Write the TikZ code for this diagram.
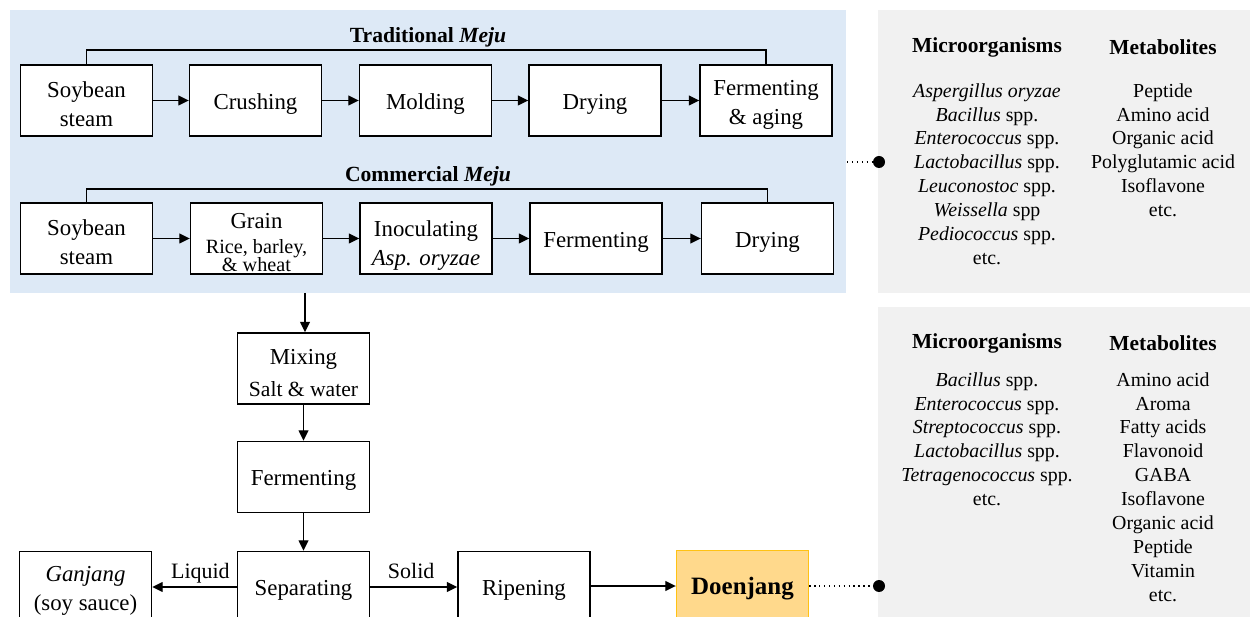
\documentclass[tikz,border=0pt]{standalone}
\usepackage{fontspec}
\setmainfont{Liberation Serif}
\usetikzlibrary{arrows.meta,positioning}

\definecolor{mejublue}{RGB}{221,233,246}
\definecolor{panelgray}{RGB}{241,241,241}
\definecolor{doenfill}{RGB}{255,217,140}
\definecolor{doenline}{RGB}{255,194,20}

\tikzset{
  stepbox/.style={ draw, line width=0.8pt, fill=white, minimum width=2.64cm, minimum height=1.42cm,
    align=center, inner sep=1pt, font=\fontsize{13}{16.5}\selectfont,
    execute at begin node={\rule{0pt}{12.5pt}} }
}
\tikzset{
  doenbox/.style={ stepbox, draw=doenline, fill=doenfill, font=\fontsize{14.2}{16}\selectfont\bfseries }
}
\tikzset{
  rowtitle/.style={ font=\fontsize{12.3}{14}\selectfont\bfseries }
}
\tikzset{
  listhead/.style={ font=\fontsize{12.2}{14}\selectfont\bfseries },
  listbody/.style={ align=center, inner sep=0pt, font=\fontsize{11.3}{13.6}\selectfont }
}
\tikzset{
  flowlabel/.style={ font=\fontsize{12.5}{14}\selectfont, text depth=0pt },
  enddot/.style={ circle, fill=black, inner sep=0pt, minimum size=0.24cm }
}
\newcommand{\smalltext}{\fontsize{11.5}{10.4}\selectfont}
\newcommand{\topstrut}[1]{\rule{0pt}{#1}}

\begin{document}
\begin{tikzpicture}[x=0.02cm, y=-0.02cm, >={Triangle[length=6pt,width=5.6pt]}]
      \clip (0,0) rectangle (1250,617);
      \fill[white] (0,0) rectangle (1250,617);

      % backgrounds
      \fill[mejublue] (10,10) rectangle (846,293);
      \fill[panelgray] (878,10) rectangle (1250,293);
      \fill[panelgray] (878,307) rectangle (1250,630);

      % traditional meju
      \node[rowtitle] (tradtitle) at (428,37) {Traditional \textit{Meju}};
      \node[stepbox] (t1) at (86.5,100.5) {\topstrut{13.5pt}Soybean\\steam};
      \node[stepbox] (t2) at (255.5,100.5) {Crushing};
      \node[stepbox] (t3) at (425.5,100.5) {Molding};
      \node[stepbox] (t4) at (595,100.5) {Drying};
      \node[stepbox] (t5) at (766,100.5) {\topstrut{13.5pt}Fermenting\\\& aging};

      % commercial meju
      \node[rowtitle] (comtitle) at (428,176) {Commercial \textit{Meju}};
      \node[stepbox] (c1) at (86.5,238.5) {\topstrut{13.5pt}Soybean\\steam};
      \node[stepbox] (c2) at (256.5,238.5) {\topstrut{13pt}Grain\\[-2.5pt]{\smalltext Rice, barley,}\\[-6.3pt]{\smalltext \& wheat}};
      \node[stepbox] (c3) at (426,238.5) {\topstrut{17pt}Inoculating\\\textit{Asp. oryzae}};
      \node[stepbox] (c4) at (596,238.5) {Fermenting};
      \node[stepbox] (c5) at (767.5,238.5) {Drying};

      % doenjang making
      \node[stepbox] (mix) at (303.5,368.5) {\topstrut{13.5pt}Mixing\\[1.5pt]{\fontsize{12.3}{13}\selectfont Salt \& water}};
      \node[stepbox] (ferm) at (303.5,477) {Fermenting};
      \node[stepbox] (sep) at (303.5,587) {Separating};
      \node[stepbox] (ganj) at (85.5,587) {\topstrut{13.5pt}\textit{Ganjang}\\(soy sauce)};
      \node[stepbox] (ripe) at (524,587) {Ripening};
      \node[doenbox] (doen) at (742.5,586) {Doenjang};

      \coordinate (mejuend) at (305,293);
      \coordinate (mejuside) at (847,162);
      \node[enddot] (dot1) at (879,162) {};
      \node[enddot] (dot2) at (879,586) {};

      % brackets
      \draw[line width=0.8pt] (t1.north) -- (t1.north |- 0,50) -| (t5.north);
      \draw[line width=0.8pt] (c1.north) -- (c1.north |- 0,189) -| (c5.north);

      \begin{scope}[->, line width=0.8pt]
        \draw (t1) -- (t2);
        \draw (t2) -- (t3);
        \draw (t3) -- (t4);
        \draw (t4) -- (t5);

        \draw (c1) -- (c2);
        \draw (c2) -- (c3);
        \draw (c3) -- (c4);
        \draw (c4) -- (c5);

        \draw (mejuend) -- (mejuend |- mix.north);
        \draw (mix) -- (ferm);
        \draw (ferm) -- (sep);
        \draw (sep.west |- ganj) -- node[flowlabel, pos=0.43, above=1pt] {Liquid} (ganj);
        \draw (sep.east |- ripe) -- node[flowlabel, pos=0.47, above=1pt] {Solid} (ripe);
        \draw (ripe.east |- doen) -- (doen);
      \end{scope}

      \draw[dotted, line width=0.8pt] (mejuside) -- (dot1);
      \draw[dotted, line width=0.8pt] (doen) -- (dot2);

      % meju panel
      \node[listhead] (mejumicro) at (987,47) {Microorganisms};
      \node[listhead] (mejumeta) at (1163,47) {Metabolites};
      \node[listbody, anchor=north] (mejumicrolist) at (987,83) {\textit{Aspergillus oryzae}\\\textit{Bacillus} spp.\\\textit{Enterococcus} spp.\\\textit{Lactobacillus} spp.\\\textit{Leuconostoc} spp.\\\textit{Weissella} spp\\\textit{Pediococcus} spp.\\etc.};
      \node[listbody, anchor=north] (mejumetalist) at (1163,83) {Peptide\\Amino acid\\Organic acid\\Polyglutamic acid\\Isoflavone\\etc.};

      % doenjang panel
      \node[listhead] (doenmicro) at (987,343) {Microorganisms};
      \node[listhead] (doenmeta) at (1163,343) {Metabolites};
      \node[listbody, anchor=north] (doenmicrolist) at (987,372) {\textit{Bacillus} spp.\\\textit{Enterococcus} spp.\\\textit{Streptococcus} spp.\\\textit{Lactobacillus} spp.\\\textit{Tetragenococcus} spp.\\etc.};
      \node[listbody, anchor=north] (doenmetalist) at (1163,372) {Amino acid\\Aroma\\Fatty acids\\Flavonoid\\GABA\\Isoflavone\\Organic acid\\Peptide\\Vitamin\\etc.};
    \end{tikzpicture}
\end{document}
